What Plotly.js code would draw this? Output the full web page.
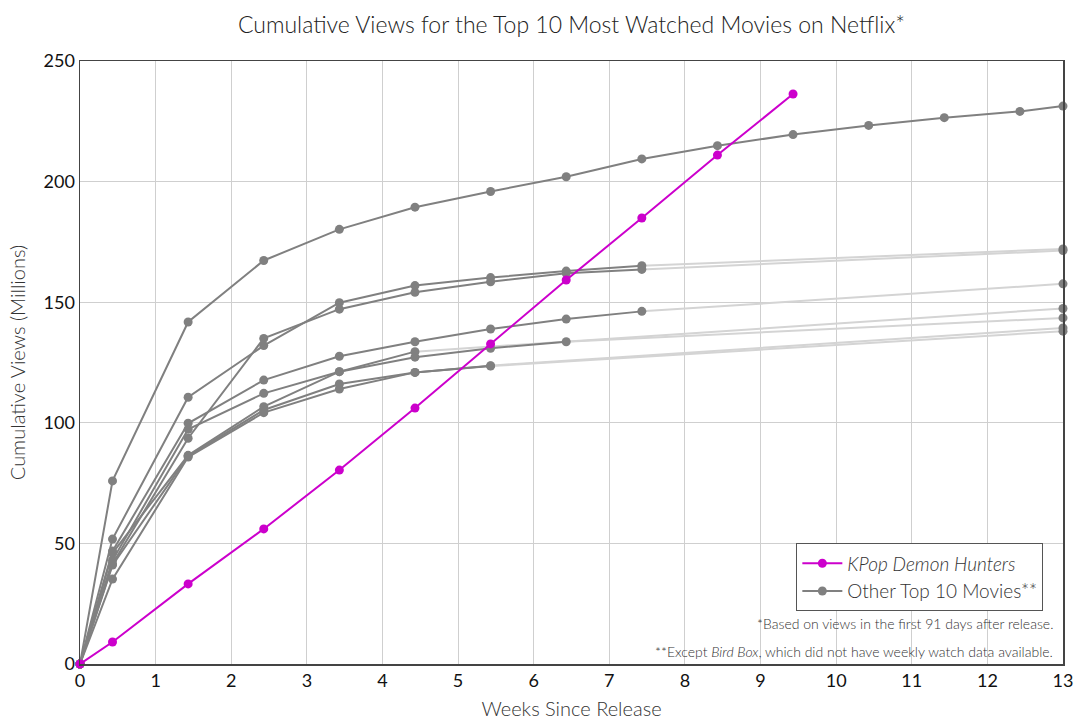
<!DOCTYPE html>
<html>
<head>
<meta charset="utf-8">
<script src="https://cdn.plot.ly/plotly-3.0.1.min.js"></script>
<style>html,body{margin:0;padding:0;background:#fff;}#chart{width:1080px;height:725px;}</style>
</head>
<body>
<div id="chart"></div>
<script>
// Weeks since release (first point is the partial first week)
const weeks = [0, 0.43, 1.43, 2.43, 3.43, 4.43, 5.43, 6.43, 7.43, 8.43, 9.43, 10.43, 11.43, 12.43, 13];
const finalWeek = 13;

// KPop Demon Hunters cumulative views (millions)
const kpopViews = [0, 9.1, 33.2, 56.0, 80.4, 106.1, 132.7, 159.2, 184.9, 211.0, 236.3];

// Other top 10 movies: weekly cumulative views (while weekly data exists)
const redNotice = [0, 75.9, 141.8, 167.3, 180.2, 189.4, 195.9, 202.0, 209.4, 214.9, 219.5, 223.3, 226.5, 229.1, 231.3];
const otherA = [0, 51.8, 110.6, 132.0, 149.8, 156.9, 160.2, 162.9, 165.1];
const otherB = [0, 41.5, 93.6, 135.0, 147.1, 154.1, 158.5, 162.0, 163.6];
const otherC = [0, 46.8, 99.8, 117.7, 127.6, 133.6, 138.9, 143.0, 146.2];
const otherD = [0, 43.0, 97.3, 112.2, 121.2, 129.5];
const otherE = [0, 46.0, 86.5, 106.7, 121.2, 127.2, 130.9, 133.6];
const otherF = [0, 41.0, 86.2, 105.3, 116.1, 120.9, 123.7];
const otherG = [0, 35.2, 85.8, 104.2, 114.0, 120.9, 123.5];
// 91-day totals for the movies with partial weekly data
const partialSeries = [otherA, otherB, otherC, otherD, otherE, otherF, otherG];
const finalViews = [172.1, 171.4, 157.6, 147.4, 143.5, 139.3, 138.0];

const xTicks = [0,1,2,3,4,5,6,7,8,9,10,11,12,13];
const yTicks = [0,50,100,150,200,250];

const GREY = '#808080';
const FAINT = '#d4d4d4';
const MAG = '#cc00cc';
const FONT = 'Lato, "Source Sans Pro", sans-serif';

const traces = [];

// faint tails
partialSeries.forEach((s, i) => {
  traces.push({
    x: [weeks[s.length - 1], finalWeek],
    y: [s[s.length - 1], finalViews[i]],
    mode: 'lines', line: {color: FAINT, width: 2},
    showlegend: false, hoverinfo: 'skip', cliponaxis: false
  });
});

// end markers
traces.push({
  x: finalViews.map(() => finalWeek), y: finalViews,
  mode: 'markers', marker: {color: GREY, size: 9},
  showlegend: false, cliponaxis: false
});

// weekly grey lines
partialSeries.forEach((s) => {
  traces.push({
    x: weeks.slice(0, s.length), y: s,
    mode: 'lines+markers', line: {color: GREY, width: 2}, marker: {color: GREY, size: 9},
    showlegend: false, cliponaxis: false
  });
});

traces.push({
  x: weeks.slice(0, redNotice.length), y: redNotice,
  mode: 'lines+markers', line: {color: GREY, width: 2}, marker: {color: GREY, size: 9},
  name: 'Other Top 10 Movies**', showlegend: true, legendrank: 2, cliponaxis: false
});

traces.push({
  x: weeks.slice(0, kpopViews.length), y: kpopViews,
  mode: 'lines+markers', line: {color: MAG, width: 2}, marker: {color: MAG, size: 9},
  name: '<i>KPop Demon Hunters</i>', showlegend: true, legendrank: 1, cliponaxis: false
});

const layout = {
  width: 1080, height: 725,
  margin: {l: 80, r: 17, t: 61, b: 61},
  paper_bgcolor: '#fff', plot_bgcolor: '#fff',
  font: {family: FONT, color: '#222'},
  title: {
    text: 'Cumulative Views for the Top 10 Most Watched Movies on Netflix*',
    font: {family: FONT, size: 23, color: '#222', weight: 300},
    x: 0.5, xref: 'paper', xanchor: 'center', y: 0.965, yref: 'container', yanchor: 'middle'
  },
  xaxis: {
    range: [0, 13], tickvals: xTicks, ticktext: xTicks.map(String),
    showgrid: true, gridcolor: '#cfcfcf', gridwidth: 1, zeroline: false,
    showline: true, linecolor: '#444', linewidth: 1.5, mirror: true,
    ticks: '', ticklen: 0,
    tickfont: {family: FONT, size: 18, color: '#111'},
    title: {text: 'Weeks Since Release', font: {family: FONT, size: 20, color: '#333', weight: 300}, standoff: 12}
  },
  yaxis: {
    range: [0, 250], tickvals: yTicks, ticktext: yTicks.map(String),
    showgrid: true, gridcolor: '#cfcfcf', gridwidth: 1, zeroline: false,
    showline: true, linecolor: '#444', linewidth: 1.5, mirror: true,
    ticks: '', ticklen: 0,
    tickfont: {family: FONT, size: 18, color: '#111'},
    title: {text: 'Cumulative Views (Millions)', font: {family: FONT, size: 20, color: '#333', weight: 300}, standoff: 12}
  },
  legend: {
    x: 0.98, xanchor: 'right', y: 0.2, yanchor: 'top',
    bgcolor: '#fff', bordercolor: '#555', borderwidth: 1,
    font: {family: FONT, size: 19, color: '#333', weight: 300},
    traceorder: 'normal', itemwidth: 40, tracegroupgap: 0
  },
  annotations: [
    {
      text: '*Based on views in the first 91 days after release.',
      xref: 'paper', yref: 'paper', x: 0.992, y: 0.067, xanchor: 'right', yanchor: 'middle',
      showarrow: false, font: {family: FONT, size: 14, color: '#333', weight: 300}
    },
    {
      text: '**Except <i>Bird Box</i>, which did not have weekly watch data available.',
      xref: 'paper', yref: 'paper', x: 0.992, y: 0.02, xanchor: 'right', yanchor: 'middle',
      showarrow: false, font: {family: FONT, size: 14, color: '#333', weight: 300}
    }
  ]
};

Plotly.newPlot('chart', traces, layout, {displayModeBar: false, staticPlot: true});
</script>
</body>
</html>
